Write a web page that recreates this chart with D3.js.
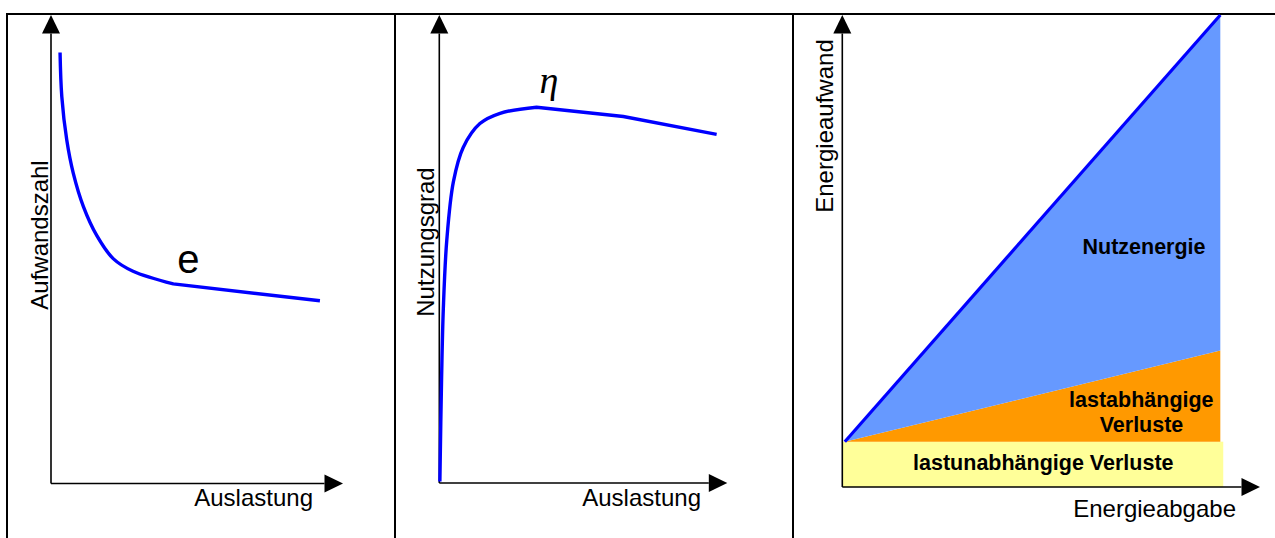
<!DOCTYPE html>
<html><head><meta charset="utf-8">
<script src="https://cdn.jsdelivr.net/npm/d3@7"></script>
<style>body{margin:0;background:#fff}svg{display:block}</style>
</head><body><svg id="c" width="1275" height="538"></svg>
<script>
// ---------- data ----------
// Panel 1: Aufwandszahl e over Auslastung (0..100 on both axes)
const load1 = [3.1, 3.7, 5.4, 7.6, 11.1, 15.7, 21.3, 28.1, 41.9, 92.1];
const effortNumber = [92.0, 82.6, 73.3, 66.3, 59.1, 52.9, 48.0, 45.3, 42.6, 39.0];
const effortKink = 8;

// Panel 2: Nutzungsgrad eta over Auslastung
const load2 = [0.2, 0.8, 1.4, 2.6, 4.9, 8.3, 14.1, 21.1, 33.8, 63.9, 96.3];
const efficiency = [0.3, 22.6, 37.3, 51.9, 64.4, 71.7, 76.8, 79.0, 80.3, 78.3, 74.5];
const effPeak = 8;

// Panel 3: Energieaufwand over Energieabgabe (stacked)
const output = [0.6, 90.5];
const fixedLoss = [9.6, 9.6];
const variableLoss = [0, 19.3];
const usefulEnergy = [0, 71.1];
const fixedLossEnd = 91.2;

const xTitles = ["Auslastung", "Auslastung", "Energieabgabe"];
const yTitles = ["Aufwandszahl", "Nutzungsgrad", "Energieaufwand"];
const curveLabels = ["e", "\u03B7"];
const areaLabels = ["Nutzenergie", "lastabhängige", "Verluste", "lastunabhängige Verluste"];

// ---------- layout ----------
const svg = d3.select("#c");
const panels = [
  {x0: 51, x1: 343, y0: 483.5, y1: 15},
  {x0: 439.3, x1: 727.3, y0: 483, y1: 15},
  {x0: 842.3, x1: 1260, y0: 487, y1: 15}
];
panels.forEach(p => {
  p.x = d3.scaleLinear().domain([0, 100]).range([p.x0, p.x1]);
  p.y = d3.scaleLinear().domain([0, 100]).range([p.y0, p.y1]);
});
const sans = "'Liberation Sans', Arial, Helvetica, sans-serif";

// frame
const frame = svg.append("g").attr("stroke", "#000").attr("stroke-width", 2);
frame.append("line").attr("x1", 6).attr("x2", 1275).attr("y1", 14).attr("y2", 14);
[7, 395, 793].forEach(xx => frame.append("line").attr("x1", xx).attr("x2", xx).attr("y1", 13).attr("y2", 538));

// ---------- panel 3 areas (drawn before axes) ----------
const p3 = panels[2];
const stackPts = output.map((o, i) => ({
  x: o,
  a: fixedLoss[i],
  b: fixedLoss[i] + variableLoss[i],
  c: fixedLoss[i] + variableLoss[i] + usefulEnergy[i]
}));
svg.append("rect")
  .attr("x", p3.x(0)).attr("y", p3.y(fixedLoss[0]))
  .attr("width", p3.x(fixedLossEnd) - p3.x(0))
  .attr("height", p3.y(0) - p3.y(fixedLoss[0]))
  .attr("fill", "#FFFF99");
svg.append("path")
  .attr("d", d3.area().x(d => p3.x(d.x)).y0(d => p3.y(d.a)).y1(d => p3.y(d.b))(stackPts))
  .attr("fill", "#FF9900");
svg.append("path")
  .attr("d", d3.area().x(d => p3.x(d.x)).y0(d => p3.y(d.b)).y1(d => p3.y(d.c))(stackPts))
  .attr("fill", "#6699FF");
svg.append("path")
  .attr("d", d3.line().x(d => p3.x(d.x)).y(d => p3.y(d.c))(stackPts))
  .attr("fill", "none").attr("stroke", "#0000FF").attr("stroke-width", 3.2);

// ---------- axes ----------
const AL = 18.5, AW = 9;
panels.forEach((p, i) => {
  const g = svg.append("g");
  const ox = p.x(0), oy = p.y(0), tx = p.x(100), ty = p.y(100);
  g.append("line").attr("x1", ox).attr("y1", oy).attr("x2", ox).attr("y2", ty + AL)
    .attr("stroke", "#000").attr("stroke-width", 1.6);
  g.append("line").attr("x1", ox).attr("y1", oy).attr("x2", tx - AL).attr("y2", oy)
    .attr("stroke", "#000").attr("stroke-width", 1.6);
  g.append("path").attr("d", `M${ox},${ty}L${ox - AW},${ty + AL}L${ox + AW},${ty + AL}Z`).attr("fill", "#000");
  g.append("path").attr("d", `M${tx},${oy}L${tx - AL},${oy - AW}L${tx - AL},${oy + AW}Z`).attr("fill", "#000");
});

// x titles
const xTitlePos = [[313, 506], [701, 506], [1236, 516.5]];
xTitles.forEach((t, i) => svg.append("text")
  .attr("x", xTitlePos[i][0]).attr("y", xTitlePos[i][1])
  .attr("text-anchor", "end").attr("font-family", sans).attr("font-size", 24).text(t));
// y titles (rotated)
const yTitlePos = [[47.5, 235], [433.5, 242], [833, 126]];
yTitles.forEach((t, i) => svg.append("text")
  .attr("transform", `translate(${yTitlePos[i][0]},${yTitlePos[i][1]}) rotate(-90)`)
  .attr("text-anchor", "middle").attr("font-family", sans).attr("font-size", 24).text(t));

// ---------- curves ----------
function kinkPath(p, xs, ys, k) {
  const pts = xs.map((v, i) => [p.x(v), p.y(ys[i])]);
  const smooth = d3.line().curve(d3.curveCatmullRom.alpha(0.5))(pts.slice(0, k + 1));
  const straight = d3.line()(pts.slice(k)).replace(/^M/, "L");
  return smooth + straight;
}
svg.append("path").attr("d", kinkPath(panels[0], load1, effortNumber, effortKink))
  .attr("fill", "none").attr("stroke", "#0000FF").attr("stroke-width", 3.4);
svg.append("path").attr("d", kinkPath(panels[1], load2, efficiency, effPeak))
  .attr("fill", "none").attr("stroke", "#0000FF").attr("stroke-width", 3.4);

// curve labels
svg.append("text").attr("x", 188.3).attr("y", 273).attr("text-anchor", "middle")
  .attr("font-family", sans).attr("font-size", 40).text(curveLabels[0]);
svg.append("text").attr("x", 549).attr("y", 93).attr("text-anchor", "middle")
  .attr("font-family", "'Liberation Serif', 'Times New Roman', serif").attr("font-style", "italic")
  .attr("font-size", 38).text(curveLabels[1]);

// area labels
const areaPos = [[1144, 253.5], [1141.3, 407], [1141.5, 431.5], [1043.3, 470]];
areaLabels.forEach((t, i) => svg.append("text")
  .attr("x", areaPos[i][0]).attr("y", areaPos[i][1]).attr("text-anchor", "middle")
  .attr("font-family", sans).attr("font-weight", "bold").attr("font-size", 21.5).text(t));
</script></body></html>
